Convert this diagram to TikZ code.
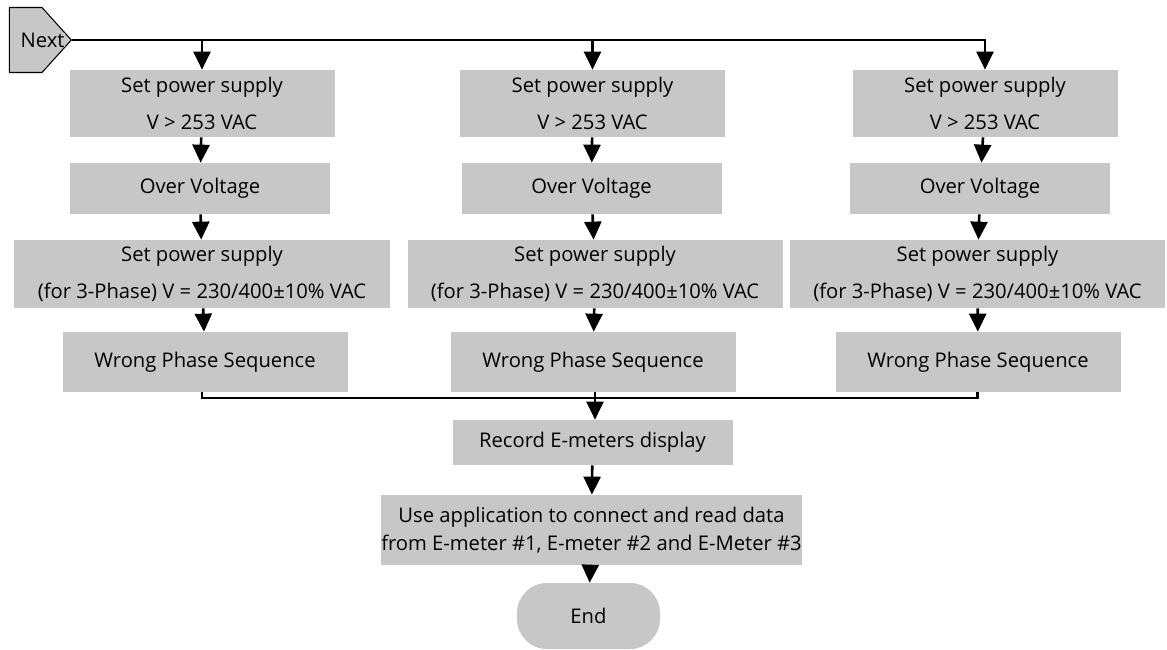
\documentclass[tikz,border=0pt]{standalone}
\usepackage{fontspec}
\setmainfont{Open Sans}
\usepackage{tikz}
\usetikzlibrary{shapes, shapes.symbols, arrows.meta}
\tikzset{
    normal/.style={line width=1.5pt},
    box/.style={fill=black!22, align=center, inner sep=0, font=\fontsize{11.5}{15}\selectfont}, % process boxes
    e/.style={style=normal, ->, >={Triangle[length=3.6mm, width=3.4mm]}}, % arrow into a box
    l/.style={style=normal}, % joining lines without tip
    start/.style={style=box, draw, semithick, signal, signal to=east, signal pointer angle=96, minimum width=1.24cm, minimum height=1.3cm},
    stop/.style={style=box, rounded corners=6mm, minimum width=2.86cm, minimum height=1.32cm}
}
\tikzstyle{two}=[style=box, minimum width=5.3cm, minimum height=1.34cm]
\tikzstyle{one}=[style=box, minimum width=5.2cm, minimum height=1.02cm]
\tikzstyle{wide}=[style=box, minimum width=7.5cm, minimum height=1.36cm]
\tikzstyle{last}=[style=box, minimum width=5.7cm, minimum height=1.2cm]

\begin{document}
\begin{tikzpicture}
          \useasboundingbox (0, 0) rectangle (23.34, -12.98);
          \node[start, anchor=east, label={[box, xshift=3.4mm]center:Next}] (next) at (1.44, -0.8) {};

          \node[two] (set_1) at (4.04, -2.07) {Set power supply\\[6pt]V > 253 VAC};
          \node[one] (over_1) at (4.0, -3.77) {Over Voltage};
          \node[wide] (phase_1) at (4.04, -5.48) {Set power supply\\[6pt](for 3-Phase) V = 230/400±10\% VAC};
          \node[last] (wrong_1) at (4.1, -7.24) {Wrong Phase Sequence};

          \node[two] (set_2) at (11.85, -2.07) {Set power supply\\[6pt]V > 253 VAC};
          \node[one] (over_2) at (11.83, -3.77) {Over Voltage};
          \node[wide] (phase_2) at (11.9, -5.48) {Set power supply\\[6pt](for 3-Phase) V = 230/400±10\% VAC};
          \node[last] (wrong_2) at (11.86, -7.24) {Wrong Phase Sequence};

          \node[two] (set_3) at (19.7, -2.07) {Set power supply\\[6pt]V > 253 VAC};
          \node[one] (over_3) at (19.6, -3.77) {Over Voltage};
          \node[wide] (phase_3) at (19.55, -5.48) {Set power supply\\[6pt](for 3-Phase) V = 230/400±10\% VAC};
          \node[last] (wrong_3) at (19.56, -7.24) {Wrong Phase Sequence};

          \node[box, minimum width=5.6cm, minimum height=0.9cm] (record) at (11.85, -8.85) {Record E-meters display};
          \node[box, minimum width=8.35cm, minimum height=1.4cm] (app) at (11.83, -10.6) {Use application to connect and read data\\[1pt]from E-meter \#1, E-meter \#2 and E-Meter \#3};
          \node[stop] (finish) at (11.77, -12.32) {End};

          \coordinate (split_1) at (next.east -| set_1);
          \coordinate (split_2) at (next.east -| set_2);
          \coordinate (join) at (11.9, -7.96);

          \draw[e] (next.east) -| (set_3);
          \draw[e] (split_1) to (set_1);
          \draw[e] (split_2) to (set_2);

          \draw[e] (set_1) to (over_1);
          \draw[e] (over_1) to (phase_1);
          \draw[e] (phase_1) to (wrong_1);
          \draw[e] (set_2) to (over_2);
          \draw[e] (over_2) to (phase_2);
          \draw[e] (phase_2) to (wrong_2);
          \draw[e] (set_3) to (over_3);
          \draw[e] (over_3) to (phase_3);
          \draw[e] (phase_3) to (wrong_3);

          \draw[l] (wrong_1.south -| phase_1) |- (join);
          \draw[l] (wrong_3.south -| phase_3) |- (join);
          \draw[e] (wrong_2.south -| phase_2) to (record.north -| phase_2);
          \draw[e] (record) to (app);
          \draw[e] (app) to (finish);
        \end{tikzpicture}
\end{document}
